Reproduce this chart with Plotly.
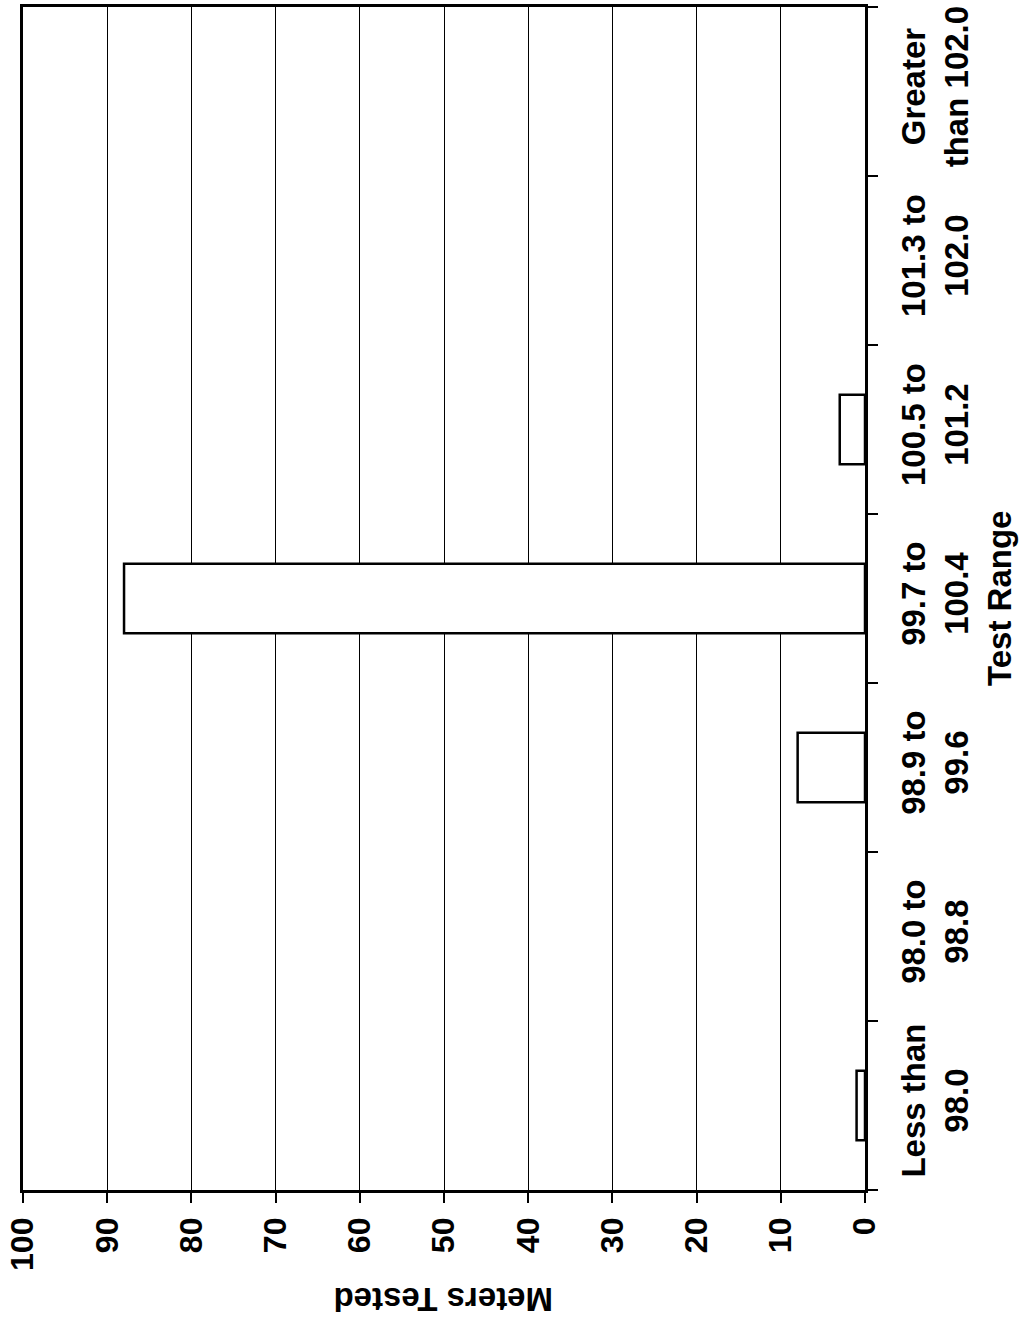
import plotly.graph_objects as go

categories = ["Less than<br>98.0", "98.0 to<br>98.8", "98.9 to<br>99.6", "99.7 to<br>100.4",
              "100.5 to<br>101.2", "101.3 to<br>102.0", "Greater<br>than 102.0"]
meters_tested = [1, 0, 8, 88, 3, 0, 0]
value_ticks = [0, 10, 20, 30, 40, 50, 60, 70, 80, 90, 100]

FONT = "Liberation Sans, Arial, sans-serif"
FS = 33

fig = go.Figure()
fig.add_trace(go.Bar(
    x=meters_tested, y=categories, orientation="h",
    marker=dict(color="white",
                line=dict(color="black", width=[2.5 if v > 0 else 0 for v in meters_tested])),
    showlegend=False,
))

fig.update_layout(
    width=1033, height=1325,
    margin=dict(l=22, r=168, t=4, b=135),
    paper_bgcolor="white", plot_bgcolor="white",
    bargap=0.59,
    font=dict(family=FONT, size=FS, color="black", weight="bold"),
    xaxis=dict(
        range=[100, 0], tickvals=value_ticks, ticktext=[str(v) for v in value_ticks],
        tickangle=-90, ticks="outside", ticklen=10, tickcolor="black", tickwidth=1.5,
        showgrid=True, gridcolor="black", gridwidth=1,
        showline=True, linecolor="black", linewidth=2.5, mirror=True,
        zeroline=False, ticklabelstandoff=2,
        tickfont=dict(family=FONT, size=32, color="black", weight="bold"),
    ),
    yaxis=dict(
        side="right", type="category", tickangle=-90,
        ticks="outside", ticklen=10, tickcolor="black", tickwidth=1.5,
        tickson="boundaries", showgrid=False,
        showline=True, linecolor="black", linewidth=2.5, mirror=True,
        zeroline=False, ticklabelstandoff=18,
        tickfont=dict(family=FONT, size=FS, color="black", weight="bold"),
    ),
    annotations=[
        dict(text="Test Range", xref="paper", yref="paper", x=1, y=0.5,
             xshift=155, showarrow=False, textangle=-90,
             font=dict(family=FONT, size=FS, color="black", weight="bold")),
        dict(text="Meters Tested", xref="paper", yref="paper", x=0.5, y=0,
             yshift=-130, showarrow=False, textangle=180,
             font=dict(family=FONT, size=FS, color="black", weight="bold")),
    ],
)

fig.write_html("out.html", config={"displayModeBar": False},
               post_script="document.body.style.margin='0';")
